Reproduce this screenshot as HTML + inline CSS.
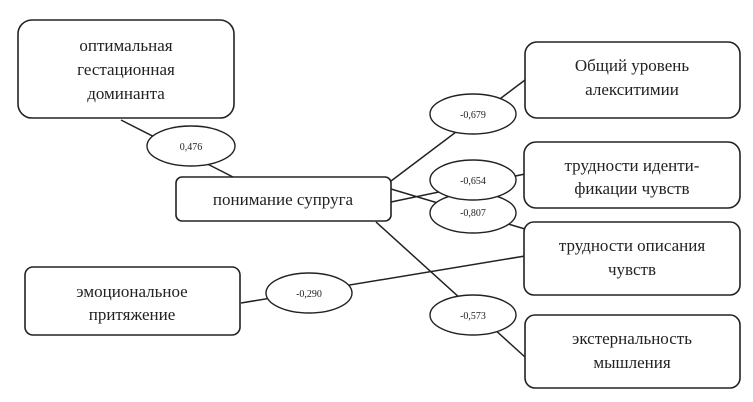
<!DOCTYPE html>
<html><head><meta charset="utf-8"><style>
body{margin:0;background:#fff}
svg{display:block}
.b{fill:#fff;stroke:#222;stroke-width:1.6}
.e{fill:#fff;stroke:#222;stroke-width:1.4}
.l{stroke:#222;stroke-width:1.5}
.t{font-family:"Liberation Serif",serif;font-size:17px;fill:#222;text-anchor:middle}
.s{font-family:"Liberation Serif",serif;font-size:10px;fill:#222;text-anchor:middle}
</style></head><body>
<svg width="753" height="402" viewBox="0 0 753 402">
<line class="l" x1="121" y1="120" x2="233" y2="177"/>
<line class="l" x1="241" y1="303" x2="525" y2="256"/>
<line class="l" x1="391" y1="181" x2="525" y2="80"/>
<line class="l" x1="391" y1="202" x2="525" y2="174"/>
<line class="l" x1="391" y1="189" x2="525" y2="229"/>
<line class="l" x1="376" y1="222" x2="525" y2="357"/>
<rect class="b" x="18" y="20" width="216" height="98" rx="14"/>
<rect class="b" x="176" y="177" width="215" height="44" rx="6"/>
<rect class="b" x="25" y="267" width="215" height="68" rx="8"/>
<rect class="b" x="525" y="42" width="215" height="76" rx="12"/>
<rect class="b" x="524" y="142" width="216" height="66" rx="12"/>
<rect class="b" x="524" y="222" width="216" height="73" rx="10"/>
<rect class="b" x="525" y="315" width="215" height="73" rx="10"/>
<ellipse class="e" cx="191" cy="146" rx="44" ry="20"/>
<ellipse class="e" cx="309" cy="293" rx="43" ry="20"/>
<ellipse class="e" cx="473" cy="114" rx="43" ry="20"/>
<ellipse class="e" cx="473" cy="213" rx="43" ry="20"/>
<ellipse class="e" cx="473" cy="180" rx="43" ry="20"/>
<ellipse class="e" cx="473" cy="315" rx="43" ry="20"/>
<text class="s" x="191" y="150">0,476</text>
<text class="s" x="309" y="297">-0,290</text>
<text class="s" x="473" y="118">-0,679</text>
<text class="s" x="473" y="184">-0,654</text>
<text class="s" x="473" y="216">-0,807</text>
<text class="s" x="473" y="319">-0,573</text>
<text class="t" x="126" y="51">оптимальная</text>
<text class="t" x="126" y="75">гестационная</text>
<text class="t" x="126" y="99">доминанта</text>
<text class="t" x="283" y="205">понимание супруга</text>
<text class="t" x="132" y="297">эмоциональное</text>
<text class="t" x="132" y="320">притяжение</text>
<text class="t" x="632" y="71">Общий уровень</text>
<text class="t" x="632" y="95">алекситимии</text>
<text class="t" x="632" y="171">трудности иденти-</text>
<text class="t" x="632" y="194">фикации чувств</text>
<text class="t" x="632" y="251">трудности описания</text>
<text class="t" x="632" y="275">чувств</text>
<text class="t" x="632" y="344">экстернальность</text>
<text class="t" x="632" y="368">мышления</text>
</svg>
</body></html>
